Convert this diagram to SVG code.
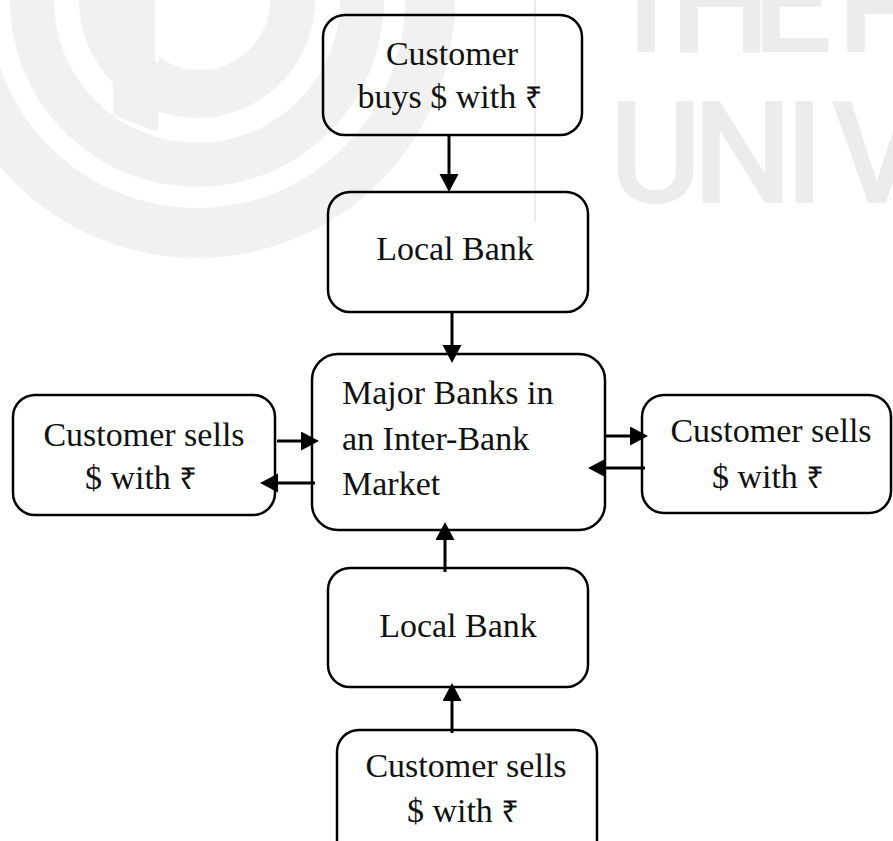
<svg xmlns="http://www.w3.org/2000/svg" width="893" height="841" viewBox="0 0 893 841">
  <style>
    .box { fill: none; stroke: #000; stroke-width: 2.5; }
    .lbl { font-family: "Liberation Serif", "Times New Roman", serif; font-size: 34px; fill: #111; }
    .mid { text-anchor: middle; }
    .rs { font-family: "Noto Sans", "DejaVu Sans", sans-serif; font-size: 31px; }
    .conn { stroke: #000; stroke-width: 3; fill: none; marker-end: url(#ah); }
    .wm { fill: #f1f1f1; }
    .wmt { font-family: Roboto, "Liberation Sans", sans-serif; font-size: 142px; font-weight: 500; fill: #ececec; }
  </style>
  <defs>
    <marker id="ah" markerUnits="userSpaceOnUse" markerWidth="20" markerHeight="20" refX="8" refY="9.5" orient="auto">
      <path d="M0,0 L18,9.5 L0,19 Z" fill="#000"/>
    </marker>
  </defs>
  <rect width="893" height="841" fill="#fff"/>

  <g id="watermark">
    <path class="wm" fill-rule="evenodd" d="M -61 0 A 258 258 0 0 0 455 0 Z M -11 0 A 208 208 0 0 0 405 0 Z"/>
    <path class="wm" fill-rule="evenodd" d="M 10 0 A 187 187 0 0 0 384 0 Z M 54 0 A 143 143 0 0 0 340 0 Z"/>
    <path class="wm" fill-rule="evenodd" d="M 79 0 A 118 118 0 0 0 315 0 Z M 130 0 A 70 70 0 0 0 270 0 Z"/>
    <path class="wm" d="M 85 0 L 158 0 L 158 132 L 113 115 L 113 80 Q 90 40 85 0 Z"/>
    <path d="M 157 0 L 157 62" stroke="#fff" stroke-width="4"/>
    <line x1="535" y1="0" x2="535" y2="222" stroke="#e4e4e4" stroke-width="1.5"/>
    <text class="wmt" x="603 670 752 790 837" y="52">THE P</text>
    <text class="wmt" x="609 692 784 831" y="203">UNIV</text>
  </g>

  <g id="connectors">
    <line class="conn" x1="449" y1="135" x2="449" y2="182"/>
    <line class="conn" x1="452" y1="312" x2="452" y2="353"/>
    <line class="conn" x1="277" y1="441" x2="309" y2="441"/>
    <line class="conn" x1="315" y1="483" x2="270" y2="483"/>
    <line class="conn" x1="605" y1="436" x2="638" y2="436"/>
    <line class="conn" x1="645" y1="468" x2="598" y2="468"/>
    <line class="conn" x1="445" y1="572" x2="445" y2="532"/>
    <line class="conn" x1="452" y1="733" x2="452" y2="693"/>
  </g>

  <g id="customer-buys">
    <rect class="box" x="323" y="15" width="259" height="120" rx="22"/>
    <text class="lbl mid" x="452" y="65">Customer</text>
    <text class="lbl mid" x="450" y="108">buys $ with <tspan class="rs">₹</tspan></text>
  </g>

  <g id="local-bank-1">
    <rect class="box" x="328" y="192" width="260" height="120" rx="22"/>
    <text class="lbl mid" x="455" y="260">Local Bank</text>
  </g>

  <g id="major-banks">
    <rect class="box" x="312" y="354" width="293" height="176" rx="26"/>
    <text class="lbl" x="342" y="404">Major Banks in</text>
    <text class="lbl" x="342" y="450">an Inter-Bank</text>
    <text class="lbl" x="342" y="495">Market</text>
  </g>

  <g id="customer-sells-left">
    <rect class="box" x="13" y="395" width="262" height="120" rx="22"/>
    <text class="lbl mid" x="144" y="446">Customer sells</text>
    <text class="lbl mid" x="141" y="489">$ with <tspan class="rs">₹</tspan></text>
  </g>

  <g id="customer-sells-right">
    <rect class="box" x="642" y="395" width="249" height="118" rx="22"/>
    <text class="lbl mid" x="771" y="442">Customer sells</text>
    <text class="lbl mid" x="768" y="488">$ with <tspan class="rs">₹</tspan></text>
  </g>

  <g id="local-bank-2">
    <rect class="box" x="328" y="568" width="260" height="119" rx="22"/>
    <text class="lbl mid" x="458" y="637">Local Bank</text>
  </g>

  <g id="customer-sells-bottom">
    <rect class="box" x="337" y="730" width="260" height="140" rx="22"/>
    <text class="lbl mid" x="466" y="777">Customer sells</text>
    <text class="lbl mid" x="463" y="822">$ with <tspan class="rs">₹</tspan></text>
  </g>
</svg>
